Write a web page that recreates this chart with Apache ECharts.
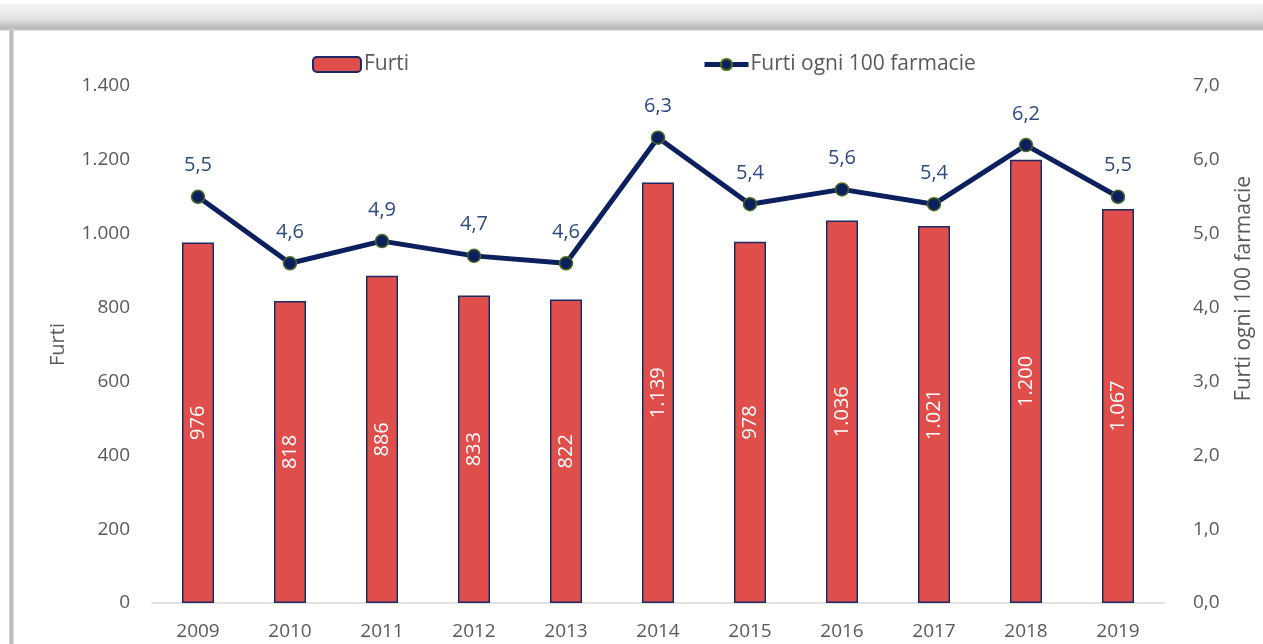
<!DOCTYPE html>
<html>
<head>
<meta charset="utf-8">
<style>
  html, body { margin: 0; padding: 0; background: #ffffff; }
  #chart { width: 1263px; height: 644px; }
</style>
<script src="https://cdn.jsdelivr.net/npm/echarts@6/dist/echarts.min.js"></script>
</head>
<body>
<div id="chart"></div>
<script>
// Thefts in pharmacies by year, with the rate per 100 pharmacies
const years = ['2009', '2010', '2011', '2012', '2013', '2014', '2015', '2016', '2017', '2018', '2019'];
const furti = [976, 818, 886, 833, 822, 1139, 978, 1036, 1021, 1200, 1067];
const furtiOgni100 = [5.5, 4.6, 4.9, 4.7, 4.6, 6.3, 5.4, 5.6, 5.4, 6.2, 5.5];

const leftTicks = { min: 0, max: 1400, interval: 200 };
const rightTicks = { min: 0, max: 7, interval: 1 };

const FONT = '"Open Sans", Lato, sans-serif';
const GREY = '#595959';

// Italian number formatting: dot for thousands, comma for decimals
function itThousands(v) {
  return String(Math.round(v)).replace(/\B(?=(\d{3})+(?!\d))/g, '.');
}
function itDecimal(v) {
  return Number(v).toFixed(1).replace('.', ',');
}

const chart = echarts.init(document.getElementById('chart'), null, { renderer: 'canvas' });

chart.setOption({
  animation: false,
  backgroundColor: '#ffffff',
  textStyle: { fontFamily: FONT },
  graphic: [
    {
      type: 'rect',
      silent: true,
      shape: { x: 0, y: 4, width: 1263, height: 27 },
      style: {
        fill: new echarts.graphic.LinearGradient(0, 0, 0, 1, [
          { offset: 0, color: '#f6f6f6' },
          { offset: 0.55, color: '#e2e2e2' },
          { offset: 0.8, color: '#c4c4c4' },
          { offset: 0.92, color: '#b8b8b8' },
          { offset: 1, color: '#e8e8e8' }
        ])
      }
    },
    {
      type: 'rect',
      silent: true,
      shape: { x: 9, y: 28, width: 5, height: 616 },
      style: {
        fill: new echarts.graphic.LinearGradient(0, 0, 1, 0, [
          { offset: 0, color: '#d8d8d8' },
          { offset: 0.5, color: '#b4b4b4' },
          { offset: 1, color: '#e4e4e4' }
        ])
      }
    }
  ],
  legend: [
    {
      data: ['Furti'],
      left: 307,
      top: 49,
      itemWidth: 48,
      itemHeight: 15,
      itemGap: 4,
      textStyle: { color: GREY, fontSize: 21, fontFamily: FONT, padding: [0, 0, 0, -2] }
    },
    {
      data: ['Furti ogni 100 farmacie'],
      left: 697,
      top: 49,
      itemWidth: 44,
      itemHeight: 14,
      itemGap: 4,
      lineStyle: { width: 5, color: '#0c1f5e' },
      textStyle: { color: GREY, fontSize: 21, fontFamily: FONT, padding: [0, 0, 0, -3] }
    }
  ],
  grid: { left: 152, right: 99, top: 86, bottom: 41, containLabel: false },
  xAxis: {
    type: 'category',
    data: years,
    axisLine: { show: true, lineStyle: { color: '#d9d9d9', width: 1.5 } },
    axisTick: { show: false },
    axisLabel: { color: GREY, fontSize: 19, fontFamily: FONT, margin: 19 }
  },
  yAxis: [
    {
      type: 'value',
      min: leftTicks.min,
      max: leftTicks.max,
      interval: leftTicks.interval,
      name: 'Furti',
      nameLocation: 'middle',
      nameGap: 84,
      nameRotate: 90,
      nameTextStyle: { color: GREY, fontSize: 20, fontFamily: FONT },
      axisLine: { show: false },
      axisTick: { show: false },
      splitLine: { show: false },
      axisLabel: { color: GREY, fontSize: 19, fontFamily: FONT, margin: 22, formatter: itThousands }
    },
    {
      type: 'value',
      min: rightTicks.min,
      max: rightTicks.max,
      interval: rightTicks.interval,
      name: 'Furti ogni 100 farmacie',
      nameLocation: 'middle',
      nameGap: 70,
      nameRotate: 90,
      nameTextStyle: { color: GREY, fontSize: 21, fontFamily: FONT, padding: [0, 0, 0, 112] },
      axisLine: { show: false },
      axisTick: { show: false },
      splitLine: { show: false },
      axisLabel: { color: GREY, fontSize: 19, fontFamily: FONT, margin: 29, formatter: itDecimal }
    }
  ],
  series: [
    {
      name: 'Furti',
      type: 'bar',
      yAxisIndex: 0,
      data: furti,
      barWidth: 32,
      itemStyle: { color: '#e04e4c', borderColor: '#1b2a66', borderWidth: 1.5 },
      label: {
        show: true,
        position: 'inside',
        rotate: 90,
        color: '#ffffff',
        fontSize: 20,
        fontFamily: FONT,
        formatter: p => itThousands(p.value)
      },
      z: 2
    },
    {
      name: 'Furti ogni 100 farmacie',
      type: 'line',
      yAxisIndex: 1,
      data: furtiOgni100,
      symbol: 'circle',
      symbolSize: 13,
      lineStyle: { color: '#0c1f5e', width: 5 },
      itemStyle: { color: '#0c1f5e', borderColor: '#4a6a1e', borderWidth: 1.5 },
      label: {
        show: true,
        position: 'top',
        distance: 14,
        color: '#2c4a80',
        fontSize: 20,
        fontFamily: FONT,
        formatter: p => itDecimal(p.value)
      },
      z: 3
    }
  ]
});
</script>
</body>
</html>
